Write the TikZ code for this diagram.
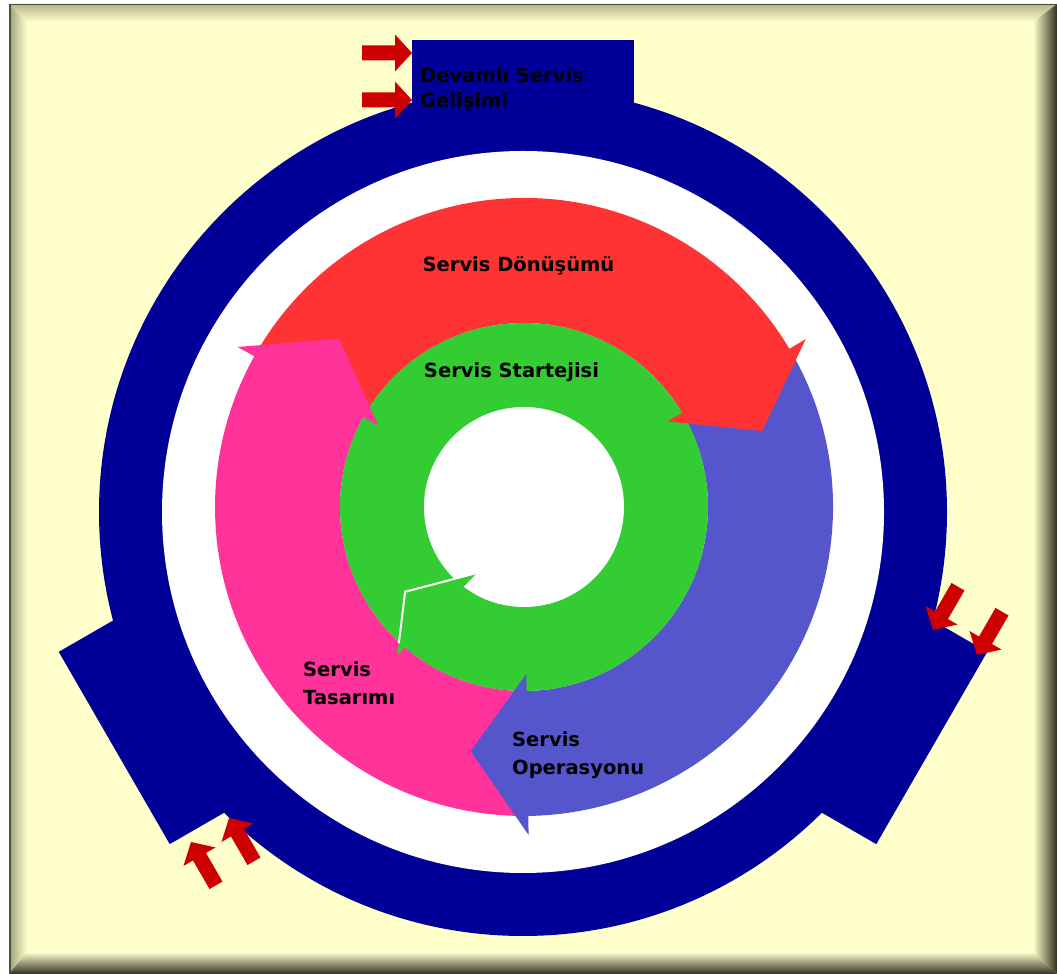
\documentclass[tikz,border=0pt]{standalone}
\usepackage{fontspec}
\setmainfont{DejaVu Sans}
\usetikzlibrary{calc}
\definecolor{bgy}{HTML}{FFFFCC}
\definecolor{frdark}{RGB}{80,80,58}
\definecolor{frmid}{RGB}{160,160,122}
\definecolor{frshadow}{RGB}{48,48,34}
\definecolor{ringblue}{RGB}{0,0,153}
\definecolor{cred}{HTML}{FF3333}
\definecolor{cpink}{HTML}{FF3399}
\definecolor{cblue}{HTML}{5555CC}
\definecolor{cgreen}{HTML}{33CC33}
\definecolor{arrowred}{HTML}{CC0000}
\newcommand\twolines[2]{\begin{tabular}[t]{@{}l@{}}#1\\#2\end{tabular}}
\tikzset{
  lbl/.style={font=\bfseries\fontsize{19.5}{28}\selectfont, text=black, inner sep=0pt},
  tablbl/.style={font=\bfseries\fontsize{19.5}{25}\selectfont, text=black, inner sep=0pt},
  redarrow/.pic={\fill[arrowred] (0,0) -- (-17,18.5) -- (-17,7.5) -- (-50,7.5) -- (-50,-7.5) -- (-17,-7.5) -- (-17,-18.5) -- cycle;}
}
\begin{document}
\begin{tikzpicture}[x=1pt,y=1pt]
\useasboundingbox (0,0) rectangle (1057,974);
% frame
\fill[white] (0,0) rectangle (1057,974);
\fill[bgy] (9,0) rectangle (1057,970);
\shade[left color=frmid, right color=bgy] (9,0) -- (9,970) -- (27,952) -- (27,22) -- cycle;
\shade[top color=frmid!80!bgy, bottom color=bgy] (9,970) -- (1057,970) -- (1033,952) -- (27,952) -- cycle;
\shade[left color=bgy, right color=frshadow] (1057,970) -- (1057,0) -- (1033,22) -- (1033,952) -- cycle;
\shade[top color=bgy, bottom color=frshadow] (9,0) -- (1057,0) -- (1033,22) -- (27,22) -- cycle;
\draw[frdark, line width=1.5] (9.75,0) -- (9.75,969.25) -- (1057,969.25);
% outer dark blue ring with tabs
\coordinate (O) at (523,462);
\fill[ringblue] (O) circle[radius=424];
\foreach \a in {0,120,240}{
  \begin{scope}[shift={(523,462)}, rotate=\a]
    \fill[ringblue] (-111,370) -- (111,370) -- (111,472) -- (-111,472) -- cycle;
  \end{scope}
}
\fill[white] (O) circle[radius=361];
% coloured cycle
\begin{scope}[shift={(524,467)}]
  \fill[cred] (150.3:309) arc[start angle=150.3, end angle=30.3, radius=309] -- (30.3:184) arc[start angle=30.3, end angle=150.3, radius=184] -- cycle;
  \fill[cblue] (30.3:309) arc[start angle=30.3, end angle=-89.7, radius=309] -- (-89.7:184) arc[start angle=-89.7, end angle=30.3, radius=184] -- cycle;
  \fill[cpink] (270.3:309) arc[start angle=270.3, end angle=150.3, radius=309] -- (150.3:184) arc[start angle=150.3, end angle=270.3, radius=184] -- cycle;
  % green ring
  \fill[cgreen] (0,0) circle[radius=184];
  \fill[white] (0,0) circle[radius=100];
  \coordinate (gin) at (234.5:81);
  \coordinate (gtip) at (215.5:146);
  \coordinate (gout) at (229.5:195);
  \fill[cgreen] (gin) -- (gtip) -- (gout) -- cycle;
  \draw[white, line width=2] (gin) -- (gtip) -- ($(gtip)!0.81!(gout)$);
  % arrow heads
  \fill[cred] (30.8:328) -- (17.7:250) -- (30.8:167) -- cycle;
  \fill[cblue] (-89.2:328) -- (-102.3:250) -- (-89.2:167) -- cycle;
  \fill[cpink] (150.8:328) -- (137.7:250) -- (150.8:167) -- cycle;
\end{scope}
% labels
\node[lbl, anchor=base] (donusum) at (518.5,702) {Servis Dönüşümü};
\node[lbl, anchor=base] (strateji) at (511.5,596) {Servis Startejisi};
\node[lbl, anchor=base west] (tasarim) at (303,297) {\twolines{Servis}{Tasarımı}};
\node[lbl, anchor=base west] (operasyon) at (512,227) {\twolines{Servis}{Operasyonu}};
\node[tablbl, anchor=base west] (gelisim) at (420,891) {\twolines{Devamlı Servis}{Gelişimi}};
% small red arrows
\pic at (412,921) {redarrow};
\pic at (412,874) {redarrow};
\pic[rotate=120] at (191,132) {redarrow};
\pic[rotate=120] at (229,156) {redarrow};
\pic[rotate=240] at (933,344) {redarrow};
\pic[rotate=240] at (977,319) {redarrow};
\end{tikzpicture}
\end{document}
